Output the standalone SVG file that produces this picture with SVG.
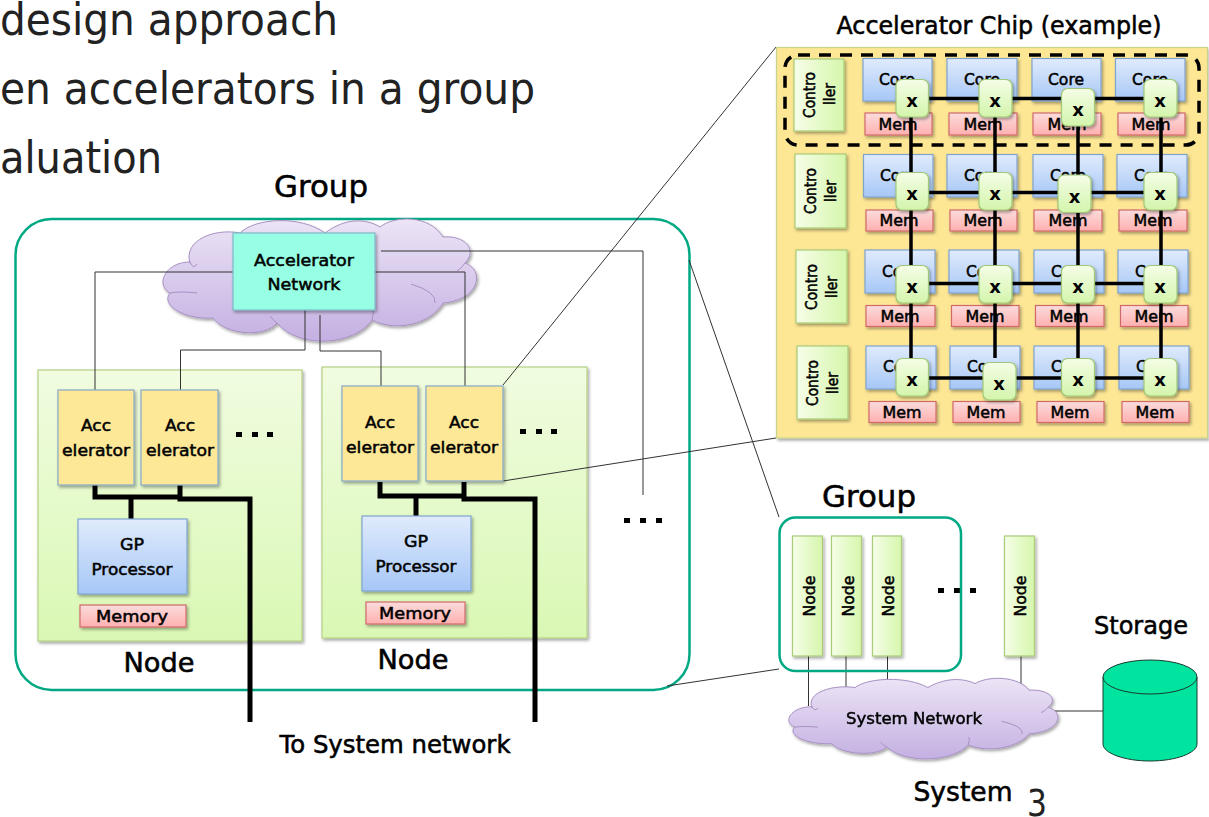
<svg xmlns="http://www.w3.org/2000/svg" xmlns:xlink="http://www.w3.org/1999/xlink" width="1209" height="817" viewBox="0 0 1209 817">
<style>
text{font-family:"DejaVu Sans","Liberation Sans",sans-serif;fill:#000;text-anchor:middle}
.bg{fill:#222;font-size:44px;text-anchor:start}
.lb{stroke:#000;stroke-width:.55px}
.s{font-size:16px;stroke:#000;stroke-width:.5px}
.core{fill:url(#gBlue);stroke:#7fa3cf;stroke-width:1.2;filter:url(#sh)}
.mem{fill:url(#gRed);stroke:#d06a6a;stroke-width:1.2;filter:url(#sh)}
.ctl{fill:url(#gGreenH);stroke:#a8cc78;stroke-width:1.2;filter:url(#sh)}
.xb{fill:url(#gGreenV);stroke:#a0c878;stroke-width:1.2;filter:url(#sh)}
.acc{fill:#fde898;stroke:#86a8c8;stroke-width:1.2;filter:url(#sh)}
.panel{fill:url(#gPanel);stroke:#b4d084;stroke-width:1.2;filter:url(#sh)}
.thin{fill:none;stroke:#333;stroke-width:1}
.bus{fill:none;stroke:#000;stroke-width:5}
.grid{fill:none;stroke:#000;stroke-width:3.5}
.grp{fill:none;stroke:#00a884;stroke-width:2.5}
.dot{fill:#000}
</style>
<defs>
<linearGradient id="gBlue" x1="0" y1="0" x2="0" y2="1"><stop offset="0" stop-color="#e0ebfc"/><stop offset="1" stop-color="#a6c7f7"/></linearGradient>
<linearGradient id="gRed" x1="0" y1="0" x2="0" y2="1"><stop offset="0" stop-color="#fbdcdc"/><stop offset="1" stop-color="#ffb0b0"/></linearGradient>
<linearGradient id="gGreenH" x1="0" y1="0" x2="1" y2="0"><stop offset="0" stop-color="#f6fee8"/><stop offset="1" stop-color="#d6f6ac"/></linearGradient>
<linearGradient id="gGreenV" x1="0" y1="0" x2="0" y2="1"><stop offset="0" stop-color="#f4fde6"/><stop offset="1" stop-color="#d4f5ac"/></linearGradient>
<linearGradient id="gPanel" x1="0" y1="0" x2="0" y2="1"><stop offset="0" stop-color="#f0fce0"/><stop offset="1" stop-color="#daf8b4"/></linearGradient>
<linearGradient id="gCloud" x1="0" y1="0" x2="0" y2="1"><stop offset="0" stop-color="#ece4f6"/><stop offset="1" stop-color="#c4b0e2"/></linearGradient>
<filter id="sh" x="-20%" y="-20%" width="140%" height="140%"><feDropShadow dx="1.5" dy="2" stdDeviation="1.5" flood-color="#000" flood-opacity=".35"/></filter>
<g id="cloudShape">
<path vector-effect="non-scaling-stroke" fill="url(#gCloud)" stroke="#a890c4" stroke-width="1" d="M190 263C183 240 215 228 240 233C255 218 300 215 325 233C345 218 365 218 380 227C395 215 430 215 443 237C465 235 478 250 465 263C485 270 480 300 443 303C430 325 395 332 372 320C355 345 300 350 277 323C265 338 225 335 213 318C185 320 160 305 170 293C155 285 165 262 190 262Z"/>
<path vector-effect="non-scaling-stroke" fill="none" stroke="#a890c4" stroke-width="1" d="M190 262Q193 270 197 264M170 293Q180 291 197 293M465 263Q462 268 457 271M411 284Q437 292 435 303M372 320Q374 312 373 308M277 323Q273 320 270 316"/>
</g>
</defs>
<rect width="1209" height="817" fill="#fff"/>

<g id="slide-text">
<text class="bg" x="0" y="35" textLength="338" lengthAdjust="spacingAndGlyphs">design approach</text>
<text class="bg" x="0" y="104" textLength="535" lengthAdjust="spacingAndGlyphs">en accelerators in a group</text>
<text class="bg" x="0" y="173" textLength="162" lengthAdjust="spacingAndGlyphs">aluation</text>
<text x="1037" y="816" style="font-size:38px;fill:#222" textLength="20" lengthAdjust="spacingAndGlyphs">3</text>
</g>

<g id="labels">
<text class="lb" x="321" y="197" font-size="31" textLength="94" lengthAdjust="spacingAndGlyphs">Group</text>
<text class="lb" x="159" y="672" font-size="27" textLength="71" lengthAdjust="spacingAndGlyphs">Node</text>
<text class="lb" x="413" y="669" font-size="27" textLength="71" lengthAdjust="spacingAndGlyphs">Node</text>
<text class="lb" x="395" y="753" font-size="25" textLength="231" lengthAdjust="spacingAndGlyphs">To System network</text>
<text class="lb" x="999" y="34" font-size="24" textLength="325" lengthAdjust="spacingAndGlyphs">Accelerator Chip (example)</text>
<text class="lb" x="869" y="507" font-size="31" textLength="94" lengthAdjust="spacingAndGlyphs">Group</text>
<text class="lb" x="1141" y="634" font-size="25" textLength="94" lengthAdjust="spacingAndGlyphs">Storage</text>
<text class="lb" x="963" y="801" font-size="27" textLength="99" lengthAdjust="spacingAndGlyphs">System</text>
</g>

<rect id="group-box" class="grp" x="15.5" y="219" width="674" height="471" rx="36"/>
<g id="accel-cloud" filter="url(#sh)"><use xlink:href="#cloudShape" href="#cloudShape"/></g>
<g id="node-panel-1"><rect class="panel" x="38" y="370" width="264" height="271"/></g>
<g id="node-panel-2"><rect class="panel" x="322" y="367" width="265" height="271"/></g>

<g id="connectors">
<path class="thin" d="M233 272H95V390"/>
<path class="thin" d="M305 310V350H180.500V390"/>
<path class="thin" d="M320 315V351H381V386"/>
<path class="thin" d="M375 272H465V386"/>
<path class="thin" d="M381 251H643V495"/>
<path class="thin" d="M503 385L776 47"/>
<path class="thin" d="M503 481L776 438"/>
<path class="thin" d="M689 260L779 517"/>
<path class="thin" d="M667 686L779 669"/>
<path class="bus" d="M95 485V497H180M180 485V499H250V722M131 497V519"/>
<path class="bus" d="M380 482V496H464M464 482V499H535V722M416 496V516"/>
<path class="thin" d="M808.500 656V706M846 656V688M887.500 656V684M1021 656V684M1055 711H1103"/>
</g>

<g id="accel-net"><rect x="233" y="233" width="142" height="77" fill="#96ffe4" stroke="#80b8c8" stroke-width="1.2" filter="url(#sh)"/>
<text class="s" x="304" y="266" textLength="100" lengthAdjust="spacingAndGlyphs">Accelerator</text><text class="s" x="304" y="290" textLength="73" lengthAdjust="spacingAndGlyphs">Network</text></g>

<g id="acc1"><rect class="acc" x="58" y="390" width="76" height="95"/><text class="s" x="96" y="431" textLength="30" lengthAdjust="spacingAndGlyphs">Acc</text><text class="s" x="96" y="456" textLength="68" lengthAdjust="spacingAndGlyphs">elerator</text></g>
<g id="acc2"><rect class="acc" x="141" y="390" width="77" height="95"/><text class="s" x="180" y="431" textLength="30" lengthAdjust="spacingAndGlyphs">Acc</text><text class="s" x="180" y="456" textLength="68" lengthAdjust="spacingAndGlyphs">elerator</text></g>
<g id="acc3"><rect class="acc" x="342" y="386" width="76" height="95"/><text class="s" x="380" y="428" textLength="30" lengthAdjust="spacingAndGlyphs">Acc</text><text class="s" x="380" y="453" textLength="68" lengthAdjust="spacingAndGlyphs">elerator</text></g>
<g id="acc4"><rect class="acc" x="426" y="386" width="77" height="95"/><text class="s" x="464" y="428" textLength="30" lengthAdjust="spacingAndGlyphs">Acc</text><text class="s" x="464" y="453" textLength="68" lengthAdjust="spacingAndGlyphs">elerator</text></g>

<g id="gp1"><rect class="core" x="78" y="519" width="109" height="75"/><text class="s" x="132" y="550" textLength="24" lengthAdjust="spacingAndGlyphs">GP</text><text class="s" x="132" y="575" textLength="81" lengthAdjust="spacingAndGlyphs">Processor</text></g>
<g id="gp2"><rect class="core" x="362" y="516" width="109" height="75"/><text class="s" x="416" y="547" textLength="24" lengthAdjust="spacingAndGlyphs">GP</text><text class="s" x="416" y="572" textLength="81" lengthAdjust="spacingAndGlyphs">Processor</text></g>
<g id="memory1"><rect class="mem" x="80" y="605" width="106" height="22"/><text class="s" x="132" y="622" textLength="72" lengthAdjust="spacingAndGlyphs">Memory</text></g>
<g id="memory2"><rect class="mem" x="366" y="602" width="99" height="22"/><text class="s" x="415" y="619" textLength="72" lengthAdjust="spacingAndGlyphs">Memory</text></g>

<g id="dots" class="dot">
<rect x="236" y="432" width="6" height="5"/><rect x="252" y="432" width="6" height="5"/><rect x="267" y="432" width="6" height="5"/>
<rect x="520" y="429" width="6" height="5"/><rect x="536" y="429" width="6" height="5"/><rect x="551" y="429" width="6" height="5"/>
<rect x="624" y="518" width="6" height="5"/><rect x="640" y="518" width="6" height="5"/><rect x="656" y="518" width="6" height="5"/>
<rect x="938" y="588" width="6" height="5"/><rect x="954" y="588" width="6" height="5"/><rect x="970" y="588" width="6" height="5"/>
</g>

<g id="chip"><rect x="776.500" y="47.500" width="431" height="390.500" fill="#fde795" stroke="#c8d48c" stroke-width="1.200" filter="url(#sh)"/></g>

<g id="ctl1"><rect class="ctl" x="794" y="59" width="50" height="72"/><text class="s" transform="translate(815 95) rotate(-90)" textLength="46" lengthAdjust="spacingAndGlyphs">Contro</text><text class="s" transform="translate(835 94) rotate(-90)" textLength="22" lengthAdjust="spacingAndGlyphs">ller</text></g>
<g id="ctl2"><rect class="ctl" x="795" y="154" width="51" height="74"/><text class="s" transform="translate(816 191) rotate(-90)" textLength="46" lengthAdjust="spacingAndGlyphs">Contro</text><text class="s" transform="translate(836 191) rotate(-90)" textLength="22" lengthAdjust="spacingAndGlyphs">ller</text></g>
<g id="ctl3"><rect class="ctl" x="796" y="250" width="51" height="73"/><text class="s" transform="translate(817 287) rotate(-90)" textLength="46" lengthAdjust="spacingAndGlyphs">Contro</text><text class="s" transform="translate(837 287) rotate(-90)" textLength="22" lengthAdjust="spacingAndGlyphs">ller</text></g>
<g id="ctl4"><rect class="ctl" x="797" y="346" width="51" height="73"/><text class="s" transform="translate(818 383) rotate(-90)" textLength="46" lengthAdjust="spacingAndGlyphs">Contro</text><text class="s" transform="translate(838 383) rotate(-90)" textLength="22" lengthAdjust="spacingAndGlyphs">ller</text></g>

<g id="cores">
<g id="core-1-1"><rect class="core" x="863" y="58.500" width="69" height="42.500"/><text class="s" x="897" y="85" textLength="36" lengthAdjust="spacingAndGlyphs">Core</text></g>
<g id="core-1-2"><rect class="core" x="947" y="58.500" width="70" height="42.500"/><text class="s" x="982" y="85" textLength="36" lengthAdjust="spacingAndGlyphs">Core</text></g>
<g id="core-1-3"><rect class="core" x="1032" y="58.500" width="69" height="42.500"/><text class="s" x="1066" y="85" textLength="36" lengthAdjust="spacingAndGlyphs">Core</text></g>
<g id="core-1-4"><rect class="core" x="1115.500" y="58.500" width="69.500" height="42.500"/><text class="s" x="1150" y="85" textLength="36" lengthAdjust="spacingAndGlyphs">Core</text></g>
<g id="core-2-1"><rect class="core" x="863.500" y="154.500" width="69.500" height="42.500"/><text class="s" x="898" y="181" textLength="36" lengthAdjust="spacingAndGlyphs">Core</text></g>
<g id="core-2-2"><rect class="core" x="947" y="154.500" width="70" height="42.500"/><text class="s" x="982" y="181" textLength="36" lengthAdjust="spacingAndGlyphs">Core</text></g>
<g id="core-2-3"><rect class="core" x="1033" y="154.500" width="70" height="42.500"/><text class="s" x="1068" y="181" textLength="36" lengthAdjust="spacingAndGlyphs">Core</text></g>
<g id="core-2-4"><rect class="core" x="1117" y="154.500" width="70" height="42.500"/><text class="s" x="1152" y="181" textLength="36" lengthAdjust="spacingAndGlyphs">Core</text></g>
<g id="core-3-1"><rect class="core" x="865" y="250" width="70" height="43"/><text class="s" x="900" y="277" textLength="36" lengthAdjust="spacingAndGlyphs">Core</text></g>
<g id="core-3-2"><rect class="core" x="949" y="250" width="70" height="43"/><text class="s" x="984" y="277" textLength="36" lengthAdjust="spacingAndGlyphs">Core</text></g>
<g id="core-3-3"><rect class="core" x="1034" y="250" width="70" height="43"/><text class="s" x="1069" y="277" textLength="36" lengthAdjust="spacingAndGlyphs">Core</text></g>
<g id="core-3-4"><rect class="core" x="1118" y="250" width="70" height="43"/><text class="s" x="1153" y="277" textLength="36" lengthAdjust="spacingAndGlyphs">Core</text></g>
<g id="core-4-1"><rect class="core" x="866" y="346" width="70" height="43"/><text class="s" x="901" y="372" textLength="36" lengthAdjust="spacingAndGlyphs">Core</text></g>
<g id="core-4-2"><rect class="core" x="950" y="346" width="70" height="43"/><text class="s" x="985" y="372" textLength="36" lengthAdjust="spacingAndGlyphs">Core</text></g>
<g id="core-4-3"><rect class="core" x="1034" y="346" width="70" height="43"/><text class="s" x="1069" y="372" textLength="36" lengthAdjust="spacingAndGlyphs">Core</text></g>
<g id="core-4-4"><rect class="core" x="1119" y="346" width="70" height="43"/><text class="s" x="1154" y="372" textLength="36" lengthAdjust="spacingAndGlyphs">Core</text></g>
</g>
<g id="mems">
<g id="mem-1-1"><rect class="mem" x="865" y="113" width="67" height="22"/><text class="s" x="898" y="130" textLength="39" lengthAdjust="spacingAndGlyphs">Mem</text></g>
<g id="mem-1-2"><rect class="mem" x="949" y="113" width="68" height="22"/><text class="s" x="983" y="130" textLength="39" lengthAdjust="spacingAndGlyphs">Mem</text></g>
<g id="mem-1-3"><rect class="mem" x="1033" y="113" width="68" height="22"/><text class="s" x="1067" y="130" textLength="39" lengthAdjust="spacingAndGlyphs">Mem</text></g>
<g id="mem-1-4"><rect class="mem" x="1118" y="113" width="67" height="22"/><text class="s" x="1151" y="130" textLength="39" lengthAdjust="spacingAndGlyphs">Mem</text></g>
<g id="mem-2-1"><rect class="mem" x="866" y="210" width="67" height="21"/><text class="s" x="899" y="226" textLength="39" lengthAdjust="spacingAndGlyphs">Mem</text></g>
<g id="mem-2-2"><rect class="mem" x="950" y="210" width="67" height="21"/><text class="s" x="983" y="226" textLength="39" lengthAdjust="spacingAndGlyphs">Mem</text></g>
<g id="mem-2-3"><rect class="mem" x="1034" y="210" width="68" height="21"/><text class="s" x="1068" y="226" textLength="39" lengthAdjust="spacingAndGlyphs">Mem</text></g>
<g id="mem-2-4"><rect class="mem" x="1119" y="210" width="68" height="21"/><text class="s" x="1153" y="226" textLength="39" lengthAdjust="spacingAndGlyphs">Mem</text></g>
<g id="mem-3-1"><rect class="mem" x="866" y="305.500" width="69" height="21"/><text class="s" x="900" y="322" textLength="39" lengthAdjust="spacingAndGlyphs">Mem</text></g>
<g id="mem-3-2"><rect class="mem" x="951.500" y="305.500" width="67.500" height="21"/><text class="s" x="985" y="322" textLength="39" lengthAdjust="spacingAndGlyphs">Mem</text></g>
<g id="mem-3-3"><rect class="mem" x="1035.500" y="305.500" width="68.500" height="21"/><text class="s" x="1069" y="322" textLength="39" lengthAdjust="spacingAndGlyphs">Mem</text></g>
<g id="mem-3-4"><rect class="mem" x="1120.500" y="305.500" width="67.500" height="21"/><text class="s" x="1154" y="322" textLength="39" lengthAdjust="spacingAndGlyphs">Mem</text></g>
<g id="mem-4-1"><rect class="mem" x="869" y="401.500" width="67" height="21"/><text class="s" x="902" y="418" textLength="39" lengthAdjust="spacingAndGlyphs">Mem</text></g>
<g id="mem-4-2"><rect class="mem" x="953" y="401.500" width="67" height="21"/><text class="s" x="986" y="418" textLength="39" lengthAdjust="spacingAndGlyphs">Mem</text></g>
<g id="mem-4-3"><rect class="mem" x="1037" y="401.500" width="67" height="21"/><text class="s" x="1070" y="418" textLength="39" lengthAdjust="spacingAndGlyphs">Mem</text></g>
<g id="mem-4-4"><rect class="mem" x="1122" y="401.500" width="67" height="21"/><text class="s" x="1155" y="418" textLength="39" lengthAdjust="spacingAndGlyphs">Mem</text></g>
</g>

<g id="chip-connectors">
<path class="grid" d="M911 117V358M995 117V358M1078 117V358M1161 117V358"/>
<path class="grid" d="M912 98.500H1161M912 192.500H1161M912 283.500H1161M912 378H1161"/>
<rect x="785" y="55" width="414" height="90" rx="13" fill="none" stroke="#000" stroke-width="3.500" stroke-dasharray="12 9"/>
</g>

<g id="xbars" style="font-size:18px;font-weight:bold">
<g id="x-1-1"><rect class="xb" x="896" y="79.500" width="32.500" height="37.500" rx="6"/><text x="912" y="107">x</text></g>
<g id="x-1-2"><rect class="xb" x="979" y="79.500" width="33" height="37.500" rx="6"/><text x="995" y="107">x</text></g>
<g id="x-1-3"><rect class="xb" x="1061.500" y="88.500" width="33" height="37.500" rx="6"/><text x="1078" y="116">x</text></g>
<g id="x-1-4"><rect class="xb" x="1144" y="79.500" width="33" height="37.500" rx="6"/><text x="1160" y="107">x</text></g>
<g id="x-2-1"><rect class="xb" x="896" y="172.500" width="32.500" height="37.500" rx="6"/><text x="912" y="200">x</text></g>
<g id="x-2-2"><rect class="xb" x="979" y="172.500" width="33" height="37.500" rx="6"/><text x="995" y="200">x</text></g>
<g id="x-2-3"><rect class="xb" x="1058" y="175" width="33" height="37.500" rx="6"/><text x="1074.500" y="203">x</text></g>
<g id="x-2-4"><rect class="xb" x="1144" y="172.500" width="33" height="37.500" rx="6"/><text x="1160" y="200">x</text></g>
<g id="x-3-1"><rect class="xb" x="896" y="265.500" width="32.500" height="37.500" rx="6"/><text x="912" y="293">x</text></g>
<g id="x-3-2"><rect class="xb" x="979" y="265.500" width="33" height="37.500" rx="6"/><text x="995" y="293">x</text></g>
<g id="x-3-3"><rect class="xb" x="1061.500" y="265.500" width="33" height="37.500" rx="6"/><text x="1078" y="293">x</text></g>
<g id="x-3-4"><rect class="xb" x="1144" y="265.500" width="33" height="37.500" rx="6"/><text x="1160" y="293">x</text></g>
<g id="x-4-1"><rect class="xb" x="896" y="358.500" width="32.500" height="37.500" rx="6"/><text x="912" y="386">x</text></g>
<g id="x-4-2"><rect class="xb" x="983" y="362.500" width="33" height="37.500" rx="6"/><text x="999" y="390">x</text></g>
<g id="x-4-3"><rect class="xb" x="1061.500" y="358.500" width="33" height="37.500" rx="6"/><text x="1078" y="386">x</text></g>
<g id="x-4-4"><rect class="xb" x="1144" y="358.500" width="33" height="37.500" rx="6"/><text x="1160" y="386">x</text></g>
</g>

<rect id="group-box-small" class="grp" x="779.500" y="517.500" width="181.500" height="153.500" rx="16"/>
<g id="sys-node-1"><rect class="ctl" x="792.500" y="536" width="30" height="120"/><text class="s" transform="translate(815 596) rotate(-90)" textLength="41" lengthAdjust="spacingAndGlyphs">Node</text></g>
<g id="sys-node-2"><rect class="ctl" x="831.500" y="536" width="30" height="120"/><text class="s" transform="translate(854 596) rotate(-90)" textLength="41" lengthAdjust="spacingAndGlyphs">Node</text></g>
<g id="sys-node-3"><rect class="ctl" x="872.500" y="536" width="29" height="120"/><text class="s" transform="translate(894 596) rotate(-90)" textLength="41" lengthAdjust="spacingAndGlyphs">Node</text></g>
<g id="sys-node-4"><rect class="ctl" x="1004.500" y="536" width="30" height="120"/><text class="s" transform="translate(1026 596) rotate(-90)" textLength="41" lengthAdjust="spacingAndGlyphs">Node</text></g>
<g id="system-cloud" filter="url(#sh)"><use xlink:href="#cloudShape" href="#cloudShape" transform="translate(788 679) scale(.858 .66) translate(-162 -220)"/><text x="914" y="724" font-size="16" stroke="#000" stroke-width=".45" textLength="136" lengthAdjust="spacingAndGlyphs">System Network</text></g>
<g id="storage"><path d="M1103 677V744C1103 753 1124 761 1150 761S1197 753 1197 744V677Z" fill="#00e4a0" stroke="#1a3a30" stroke-width="1"/><ellipse cx="1150" cy="677" rx="47" ry="17" fill="#00e4a0" stroke="#1a3a30" stroke-width="1"/></g>
</svg>
